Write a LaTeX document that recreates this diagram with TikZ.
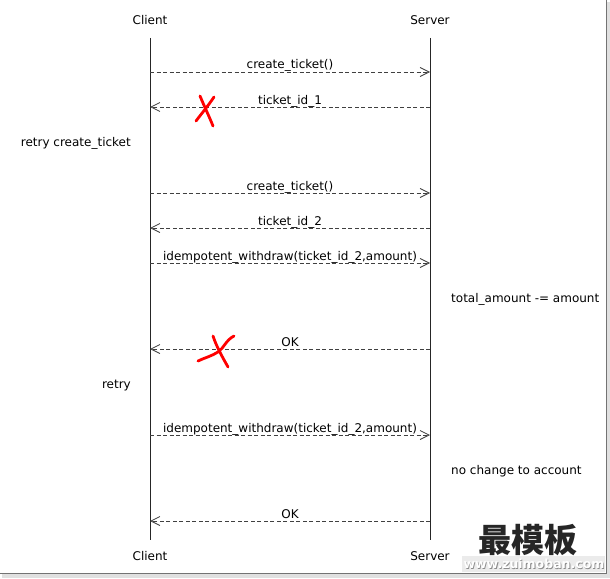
\documentclass[tikz,border=0pt]{standalone}
\usepackage{fontspec}
\setmainfont{DejaVu Sans}
\newfontfamily\cjkfont{Noto Sans CJK SC}
\usetikzlibrary{arrows.meta}

\begin{document}
\begin{tikzpicture}[x=1pt, y=-1pt, every node/.style={font=\fontsize{12}{13}\selectfont, inner sep=1pt},
	life/.style={draw=black!85, line width=0.8pt},
	msg/.style={draw=black!75, line width=0.8pt, dash pattern=on 4pt off 2.5pt, -{Straight Barb[length=9pt,width=9pt,line width=0.8pt]}},
	lbl/.style={anchor=base, yshift=3pt},
	lost/.style={draw=red, line width=2.8pt, line cap=round},
	note/.style={anchor=base}]
	\useasboundingbox (0,0) rectangle (610,578);
	% frame
	\fill[black!12] (607,2) rectangle (610,578);
	\fill[black!12] (2,574) rectangle (610,578);
	\draw[black!55, line width=1pt] (606,0) -- (606,573.5) -- (0,573.5);
	% actors
	\node (ctop) at (150,20) {Client};
	\node (stop) at (430,20) {Server};
	\node (cbot) at (150,556) {Client};
	\node (sbot) at (430,556) {Server};
	\coordinate (c0) at (150,38);
	\coordinate (s0) at (430,38);
	\coordinate (cz) at (150,540);
	\coordinate (sz) at (430,540);
	\draw[life] (c0) -- (cz);
	\draw[life] (s0) -- (sz);
	% message rows
	\coordinate (c1) at (150,72);  \coordinate (s1) at (430,72);
	\coordinate (c2) at (150,107); \coordinate (s2) at (430,107);
	\coordinate (c3) at (150,193); \coordinate (s3) at (430,193);
	\coordinate (c4) at (150,228); \coordinate (s4) at (430,228);
	\coordinate (c5) at (150,263); \coordinate (s5) at (430,263);
	\coordinate (c6) at (150,349); \coordinate (s6) at (430,349);
	\coordinate (c7) at (150,435); \coordinate (s7) at (430,435);
	\coordinate (c8) at (150,521); \coordinate (s8) at (430,521);
	\draw[msg] (c1) -- node[lbl] {create\_ticket()} (s1);
	\draw[msg] (s2) -- node[lbl] {ticket\_id\_1} (c2);
	\draw[msg] (c3) -- node[lbl] {create\_ticket()} (s3);
	\draw[msg] (s4) -- node[lbl] {ticket\_id\_2} (c4);
	\draw[msg] (c5) -- node[lbl] {idempotent\_withdraw(ticket\_id\_2,amount)} (s5);
	\draw[msg] (s6) -- node[lbl] {OK} (c6);
	\draw[msg] (c7) -- node[lbl] {idempotent\_withdraw(ticket\_id\_2,amount)} (s7);
	\draw[msg] (s8) -- node[lbl] {OK} (c8);
	% notes
	\node[note, anchor=base east] (retry1) at (132,146) {retry create\_ticket};
	\node[note, anchor=base east] (retry2) at (132,388) {retry};
	\node[note, anchor=base west] (sub) at (450,302) {total\_amount -= amount};
	\node[note, anchor=base west] (same) at (450,474) {no change to account};
	% lost replies
	\draw[lost] (200,96) .. controls (205,108) and (209,116) .. (213,126);
	\draw[lost] (214,97) .. controls (208,106) and (202,113) .. (196,121);
	\draw[lost] (213,336) .. controls (217,348) and (223,358) .. (228,367);
	\draw[lost] (234,336) .. controls (226,340) and (224,348) .. (218,352) .. controls (212,356) and (204,358) .. (198,361);
	% watermark
	\node[font=\cjkfont\bfseries\fontsize{33}{33}\selectfont, text=black!85] (wm) at (528,540) {最模板};
	\fill[black!8] (462,556) rectangle (605,572);
	\node[font=\bfseries\fontsize{12.5}{13}\selectfont, text=black!45] at (534.8,564.8) {www.zuimoban.com};
	\node[font=\bfseries\fontsize{12.5}{13}\selectfont, text=white] (url) at (534,564) {www.zuimoban.com};
\end{tikzpicture}
\end{document}
